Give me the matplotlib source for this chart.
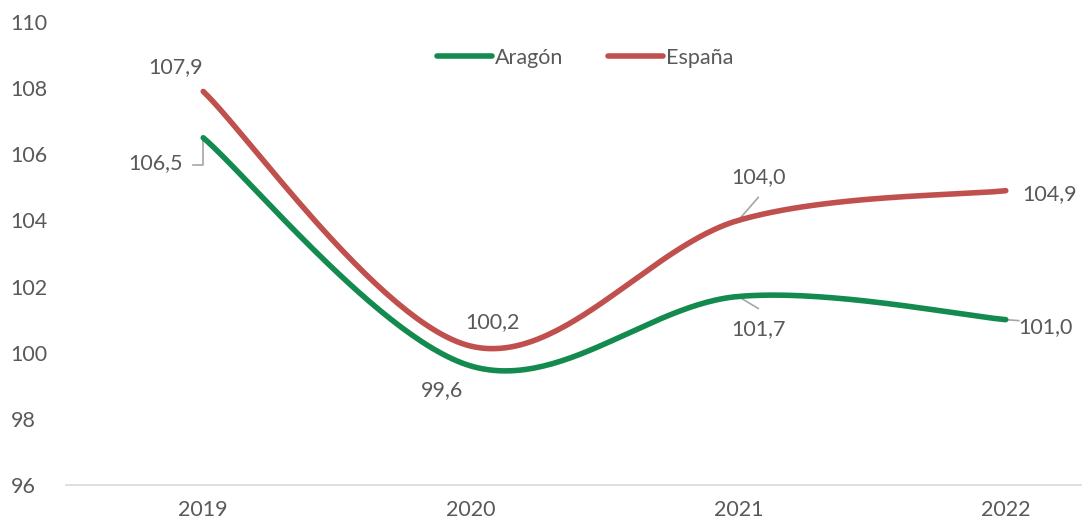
import numpy as np
import matplotlib
matplotlib.use("Agg")
import matplotlib.pyplot as plt
from matplotlib.lines import Line2D

years = ["2019", "2020", "2021", "2022"]
aragon = [106.5, 99.6, 101.7, 101.0]
espana = [107.9, 100.2, 104.0, 104.9]
labels_aragon = ["106,5", "99,6", "101,7", "101,0"]
labels_espana = ["107,9", "100,2", "104,0", "104,9"]
yticks = [96, 98, 100, 102, 104, 106, 108, 110]

GREEN = "#138A4E"
RED = "#C0504D"
TXT = "#595959"
LEADER = "#A6A6A6"

plt.rcParams['font.family'] = ['Lato', 'DejaVu Sans']
FS = 15.5


def excel_smooth(xs, ys, n=60):
    xs = np.asarray(xs, float)
    ys = np.asarray(ys, float)
    px = np.concatenate([[xs[0]], xs, [xs[-1]]])
    py = np.concatenate([[ys[0]], ys, [ys[-1]]])
    outx, outy = [], []
    t = np.linspace(0, 1, n)
    for i in range(1, len(px) - 2):
        p0 = np.array([px[i], py[i]])
        p3 = np.array([px[i + 1], py[i + 1]])
        c1 = p0 + (np.array([px[i + 1], py[i + 1]]) - np.array([px[i - 1], py[i - 1]])) / 6
        c2 = p3 - (np.array([px[i + 2], py[i + 2]]) - np.array([px[i], py[i]])) / 6
        b = ((1 - t) ** 3)[:, None] * p0 + (3 * (1 - t) ** 2 * t)[:, None] * c1 + \
            (3 * (1 - t) * t ** 2)[:, None] * c2 + (t ** 3)[:, None] * p3
        outx.extend(b[:, 0])
        outy.extend(b[:, 1])
    return np.array(outx), np.array(outy)


fig = plt.figure(figsize=(10.82, 5.24), dpi=100)
ax = fig.add_axes([66 / 1082, 1 - 485 / 524, 1016 / 1082, 463 / 524])
x = np.arange(len(years))

for vals, col in [(aragon, GREEN), (espana, RED)]:
    sx, sy = excel_smooth(x, vals)
    ax.plot(sx, sy, color=col, lw=4.0, solid_capstyle='round', zorder=3)

ax.set_ylim(96, 110)
ax.set_xlim(-0.513, 3.285)
ax.set_yticks(yticks)
ax.set_yticklabels([str(v) for v in yticks])
ax.set_xticks(x)
ax.set_xticklabels(years)
for s in ["top", "right", "left"]:
    ax.spines[s].set_visible(False)
ax.spines["bottom"].set_color("#D9D9D9")
ax.spines["bottom"].set_linewidth(1.2)
ax.tick_params(axis='both', length=0, labelsize=FS, colors=TXT)
ax.tick_params(axis='x', pad=11)
ax.tick_params(axis='y', pad=40)
for lab in ax.get_yticklabels():
    lab.set_horizontalalignment('left')


def lbl(i, vals, text, dx, dy, leader=None):
    ax.annotate(text, (x[i], vals[i]), xytext=(dx, -dy), textcoords='offset pixels',
                ha='center', va='center', fontsize=FS, color=TXT, zorder=4)
    if leader is not None:
        xs, ys = leader
        px, py = ax.transData.transform((x[i], vals[i]))
        inv = ax.transData.inverted()
        pts = [inv.transform((px + a, py - b)) for a, b in zip(xs, ys)]
        ax.plot([p[0] for p in pts], [p[1] for p in pts], color=LEADER, lw=1.2, zorder=2)

# España labels
lbl(0, espana, labels_espana[0], -28, -24)
lbl(1, espana, labels_espana[1], 22, -24)
lbl(2, espana, labels_espana[2], 20, -43, leader=([0, 20], [0, -23]))
lbl(3, espana, labels_espana[3], 44, 3)
# Aragón labels
lbl(0, aragon, labels_aragon[0], -48, 25, leader=([0, 0, -10], [0, 27, 27]))
lbl(1, aragon, labels_aragon[1], -29, 24)
lbl(2, aragon, labels_aragon[2], 20, 33, leader=([0, 20], [0, 12]))
lbl(3, aragon, labels_aragon[3], 40, 7, leader=([0, 13], [0, 1]))

handles = [Line2D([0], [0], color=GREEN, lw=4.0, solid_capstyle='round'),
           Line2D([0], [0], color=RED, lw=4.0, solid_capstyle='round')]
leg = fig.legend(handles, ["Aragón", "España"], loc='center', bbox_to_anchor=(585 / 1082, 1 - 58 / 524),
                 ncol=2, frameon=False, fontsize=FS, handlelength=2.55, handletextpad=0.12,
                 columnspacing=2.1, labelcolor=TXT)

fig.savefig("out.png", dpi=100)
